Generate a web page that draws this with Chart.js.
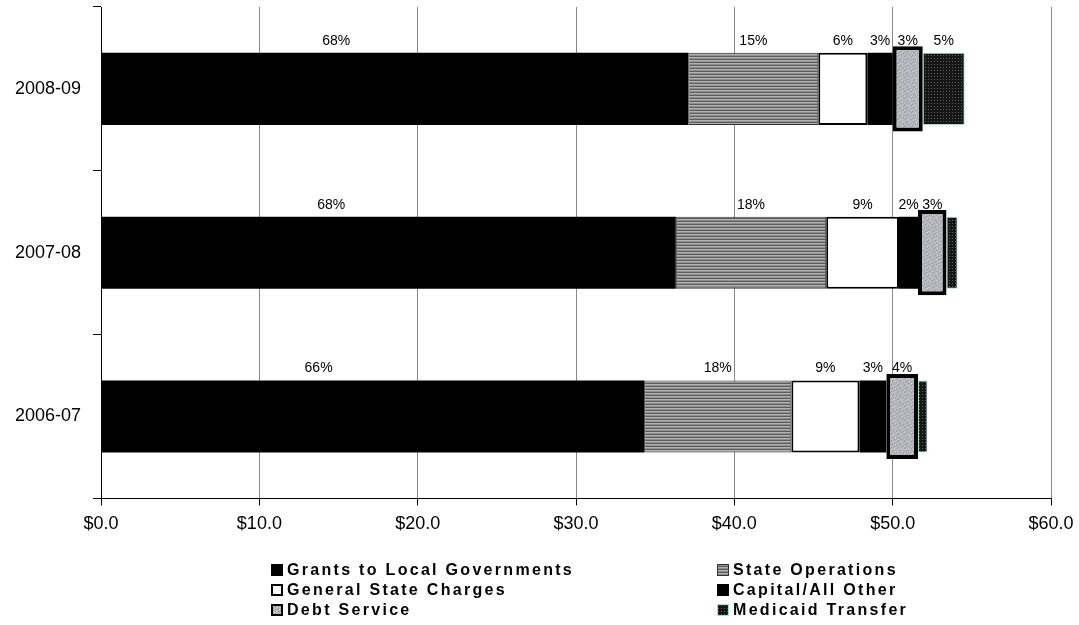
<!DOCTYPE html>
<html>
<head>
<meta charset="utf-8">
<script src="https://cdn.jsdelivr.net/npm/chart.js@4"></script>
<style>
  html, body { margin: 0; padding: 0; background: #fff; }
  #wrap { position: relative; width: 1079px; height: 625px; }
  #legend { position: absolute; left: 0; top: 560px; width: 1079px;
            font: bold 16px "Liberation Sans", Arial, sans-serif; letter-spacing: 2.3px; color: #000; }
  .item { position: absolute; display: flex; align-items: center; height: 20px; white-space: nowrap; }
  .item canvas { margin-right: 4px; }
</style>
</head>
<body>
<div id="wrap">
  <canvas id="budget" width="1079" height="625"></canvas>
  <div id="legend"></div>
</div>
<script>
// spending by fiscal year, $ billions
const years = ['2008-09', '2007-08', '2006-07'];
const seriesNames = ['Grants to Local Governments', 'State Operations', 'General State Charges',
                     'Capital/All Other', 'Debt Service', 'Medicaid Transfer'];
const grants         = [37.1, 36.3, 34.3];
const stateOps       = [8.2, 9.5, 9.3];
const generalCharges = [3.1, 4.6, 4.3];
const capital        = [1.6, 1.2, 1.7];
const debtService    = [1.9, 1.8, 2.0];
const medicaid       = [2.65, 0.7, 0.6];
// share labels printed above each segment
const grantsPct   = ['68%', '68%', '66%'];
const stateOpsPct = ['15%', '18%', '18%'];
const generalPct  = ['6%', '9%', '9%'];
const capitalPct  = ['3%', '2%', '3%'];
const debtPct     = ['3%', '3%', '4%'];
const medicaidPct = ['5%', '', ''];
const xTicks = [0, 10, 20, 30, 40, 50, 60];

const FONT = '"Liberation Sans", Arial, sans-serif';

function tile(w, h, paint) {
  const c = document.createElement('canvas');
  c.width = w; c.height = h;
  paint(c.getContext('2d'));
  return c.getContext('2d').createPattern(c, 'repeat');
}
const stripes = tile(4, 3, g => {
  g.fillStyle = '#b2b2b2'; g.fillRect(0, 0, 4, 1);
  g.fillStyle = '#8e8e8e'; g.fillRect(0, 1, 4, 1);
  g.fillStyle = '#5c5c5c'; g.fillRect(0, 2, 4, 1);
});
const speckle = tile(7, 7, g => {
  g.fillStyle = '#b6b6be'; g.fillRect(0, 0, 7, 7);
  g.fillStyle = '#9a9aa2';
  [[1, 0], [4, 2], [0, 4], [5, 5], [2, 6], [3, 3]].forEach(p => g.fillRect(p[0], p[1], 1, 1));
  g.fillStyle = '#cfcfd6';
  [[3, 1], [6, 3], [1, 5], [5, 0]].forEach(p => g.fillRect(p[0], p[1], 1, 1));
});
const dots = tile(3, 3, g => {
  g.fillStyle = '#161616'; g.fillRect(0, 0, 3, 3);
  g.fillStyle = '#5e5e5e'; g.fillRect(1, 1, 1, 1);
});

const shareLabels = [grantsPct, stateOpsPct, generalPct, capitalPct, debtPct, medicaidPct];

const data = {
  labels: years,
  datasets: [
    { label: seriesNames[0], data: grants, backgroundColor: '#000', borderColor: '#000', borderWidth: 0 },
    { label: seriesNames[1], data: stateOps, backgroundColor: stripes, borderColor: '#333', borderWidth: 1 },
    { label: seriesNames[2], data: generalCharges, backgroundColor: '#fff', borderColor: '#000', borderWidth: 2 },
    { label: seriesNames[3], data: capital, backgroundColor: '#000', borderColor: '#000', borderWidth: 0 },
    { label: seriesNames[4], data: debtService, backgroundColor: speckle, borderColor: '#000', borderWidth: 4,
      barPercentage: 0.52 },
    { label: seriesNames[5], data: medicaid, backgroundColor: dots, borderColor: '#9fe3c8', borderWidth: 1 }
  ]
};

const shareLabelPlugin = {
  id: 'shareLabels',
  afterDatasetsDraw(chart) {
    const ctx = chart.ctx;
    ctx.save();
    ctx.font = '14px ' + FONT;
    ctx.fillStyle = '#000';
    ctx.textAlign = 'center';
    ctx.textBaseline = 'bottom';
    chart.data.datasets.forEach((ds, i) => {
      chart.getDatasetMeta(i).data.forEach((bar, j) => {
        const txt = shareLabels[i][j];
        if (!txt) return;
        const ref = chart.getDatasetMeta(0).data[j];
        const top = ref.y - ref.height / 2;
        const frac = i === 0 ? 0.4 : 0.5;
        ctx.fillText(txt, bar.base + (bar.x - bar.base) * frac, top - 5);
      });
    });
    ctx.restore();
  }
};

// drop the half-label padding Chart.js reserves at the axis ends
const noEndPadding = s => { s.paddingTop = 0; s.paddingBottom = 0; s.paddingLeft = 0; s.paddingRight = 0; };

const chart = new Chart(document.getElementById('budget'), {
  type: 'bar',
  data: data,
  plugins: [shareLabelPlugin],
  options: {
    indexAxis: 'y',
    responsive: false,
    animation: false,
    datasets: { bar: { barPercentage: 0.44, categoryPercentage: 1, borderSkipped: false } },
    layout: { padding: { left: 3, right: 28, top: 7, bottom: 82 } },
    plugins: { legend: { display: false }, tooltip: { enabled: false } },
    scales: {
      x: {
        stacked: true, min: 0, max: 60,
        afterFit: noEndPadding,
        afterBuildTicks: axis => { axis.ticks = xTicks.map(v => ({ value: v })); },
        ticks: { color: '#000', font: { size: 18, family: FONT }, padding: 8,
                 callback: v => '$' + Number(v).toFixed(1) },
        grid: { color: '#888', tickLength: 7, tickColor: '#000' },
        border: { color: '#000' }
      },
      y: {
        stacked: true,
        afterFit: noEndPadding,
        ticks: { color: '#000', font: { size: 18, family: FONT }, padding: 12 },
        grid: { drawOnChartArea: false, tickLength: 8, color: '#000', offset: true },
        border: { color: '#000' }
      }
    }
  }
});

// two-column legend underneath
const legend = document.getElementById('legend');
const colLeft = [271, 717];
chart.data.datasets.forEach((ds, i) => {
  const item = document.createElement('div');
  item.className = 'item';
  item.style.left = colLeft[i % 2] + 'px';
  item.style.top = (Math.floor(i / 2) * 20) + 'px';
  const sw = document.createElement('canvas');
  sw.width = 12; sw.height = 12;
  const g = sw.getContext('2d');
  g.fillStyle = ds.backgroundColor; g.fillRect(0, 0, 12, 12);
  if (ds.borderWidth) {
    g.lineWidth = Math.min(ds.borderWidth, 2);
    g.strokeStyle = ds.borderColor;
    g.strokeRect(g.lineWidth / 2, g.lineWidth / 2, 12 - g.lineWidth, 12 - g.lineWidth);
  }
  item.appendChild(sw);
  item.appendChild(document.createTextNode(ds.label));
  legend.appendChild(item);
});
</script>
</body>
</html>
